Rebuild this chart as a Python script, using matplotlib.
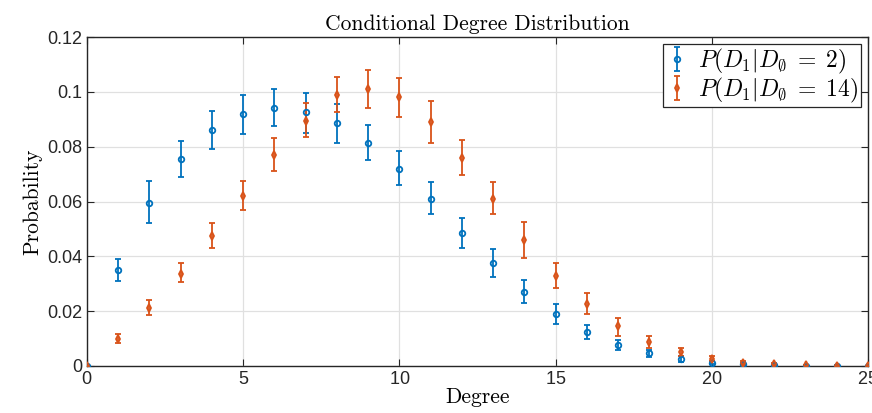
import matplotlib

matplotlib.use("Agg")
import matplotlib.pyplot as plt  # noqa: E402
from matplotlib.ticker import FuncFormatter  # noqa: E402

# degree k = 0..25
degree = list(range(26))

# P(D1 | D_o = 2)
p2 = [0.0, 0.035, 0.0595, 0.0755, 0.086, 0.092, 0.094, 0.0925, 0.0885, 0.0815,
      0.072, 0.061, 0.0485, 0.0375, 0.027, 0.019, 0.0125, 0.0078, 0.0047, 0.0025,
      0.0012, 0.0006, 0.0003, 0.0001, 0.00005, 0.0]
p2_lo = [0.0, 0.031, 0.052, 0.069, 0.079, 0.0845, 0.0875, 0.085, 0.0815, 0.075,
         0.066, 0.0555, 0.043, 0.0325, 0.023, 0.0155, 0.010, 0.006, 0.0033, 0.0015,
         0.0006, 0.0002, 0.0001, 0.0, 0.0, 0.0]
p2_hi = [0.0, 0.039, 0.0675, 0.082, 0.093, 0.099, 0.101, 0.0995, 0.0955, 0.088,
         0.0785, 0.067, 0.054, 0.0425, 0.0315, 0.0225, 0.015, 0.0095, 0.006, 0.0035,
         0.0018, 0.001, 0.0005, 0.0002, 0.0001, 0.0]

# P(D1 | D_o = 14)
p14 = [0.0, 0.010, 0.021, 0.0335, 0.0475, 0.062, 0.077, 0.0895, 0.099, 0.101,
       0.098, 0.089, 0.076, 0.061, 0.046, 0.033, 0.0225, 0.0145, 0.0088, 0.005,
       0.0027, 0.0012, 0.0006, 0.0002, 0.0001, 0.0]
p14_lo = [0.0, 0.0085, 0.0185, 0.0305, 0.0432, 0.057, 0.071, 0.0835, 0.0925, 0.094,
          0.091, 0.0815, 0.0695, 0.0555, 0.0395, 0.0285, 0.019, 0.011, 0.0065, 0.0035,
          0.0018, 0.0005, 0.0002, 0.0, 0.0, 0.0]
p14_hi = [0.0, 0.0115, 0.024, 0.0375, 0.052, 0.0675, 0.083, 0.096, 0.1055, 0.108,
          0.105, 0.0965, 0.0825, 0.067, 0.0525, 0.0375, 0.0265, 0.0175, 0.011, 0.0067,
          0.0037, 0.002, 0.001, 0.0004, 0.0002, 0.0]

BLUE = "#0072BD"
ORANGE = "#D95319"

plt.rcParams["mathtext.fontset"] = "cm"
plt.rcParams["font.family"] = ["Liberation Sans", "DejaVu Sans"]
plt.rcParams["axes.formatter.use_mathtext"] = True


def _err(v, lo, hi):
    return [[a - b for a, b in zip(v, lo)], [c - a for a, c in zip(v, hi)]]


fig = plt.figure(figsize=(8.72, 4.13), dpi=100)
ax = fig.add_axes([87 / 872, 1 - 366 / 413, (868 - 87) / 872, (366 - 37) / 413])

ax.errorbar(degree, p2, yerr=_err(p2, p2_lo, p2_hi), fmt="o", color=BLUE,
            markersize=4, markerfacecolor="none", markeredgewidth=1.3,
            elinewidth=1.3, capsize=2.5, capthick=1.3,
            label=r"$P(D_1|D_\emptyset\;=\;2)$", zorder=3)
ax.errorbar(degree, p14, yerr=_err(p14, p14_lo, p14_hi), fmt="d", color=ORANGE,
            markersize=4, markerfacecolor="none", markeredgewidth=1.3,
            elinewidth=1.3, capsize=2.5, capthick=1.3,
            label=r"$P(D_1|D_\emptyset\;=\;14)$", zorder=3)

ax.set_xlim(0, 25)
ax.set_ylim(0, 0.12)
ax.set_xticks([0, 5, 10, 15, 20, 25])
ax.set_yticks([0, 0.02, 0.04, 0.06, 0.08, 0.1, 0.12])
ax.yaxis.set_major_formatter(FuncFormatter(lambda v, _: f"{v:g}"))
ax.tick_params(direction="in", top=True, right=True, labelsize=13, length=5,
               color="0.15", labelcolor="0.15")
ax.grid(True, color="0.88", linewidth=0.9)
ax.set_axisbelow(True)
for s in ax.spines.values():
    s.set_color("0.15")
    s.set_linewidth(1.0)

ax.set_title("Conditional Degree Distribution", fontfamily="cmr10", fontsize=15.5, pad=5)
ax.set_xlabel("Degree", fontfamily="cmr10", fontsize=15.5, labelpad=0)
ax.set_ylabel("Probability", fontfamily="cmr10", fontsize=15.5, labelpad=3)

leg = ax.legend(loc="upper right", fontsize=17, frameon=True, fancybox=False,
                edgecolor="0.15", framealpha=1, borderpad=0.1, handlelength=1.0,
                handletextpad=0.4, labelspacing=0.0, borderaxespad=0.3)
leg.get_frame().set_linewidth(0.9)

fig.savefig("out.png", dpi=100)
